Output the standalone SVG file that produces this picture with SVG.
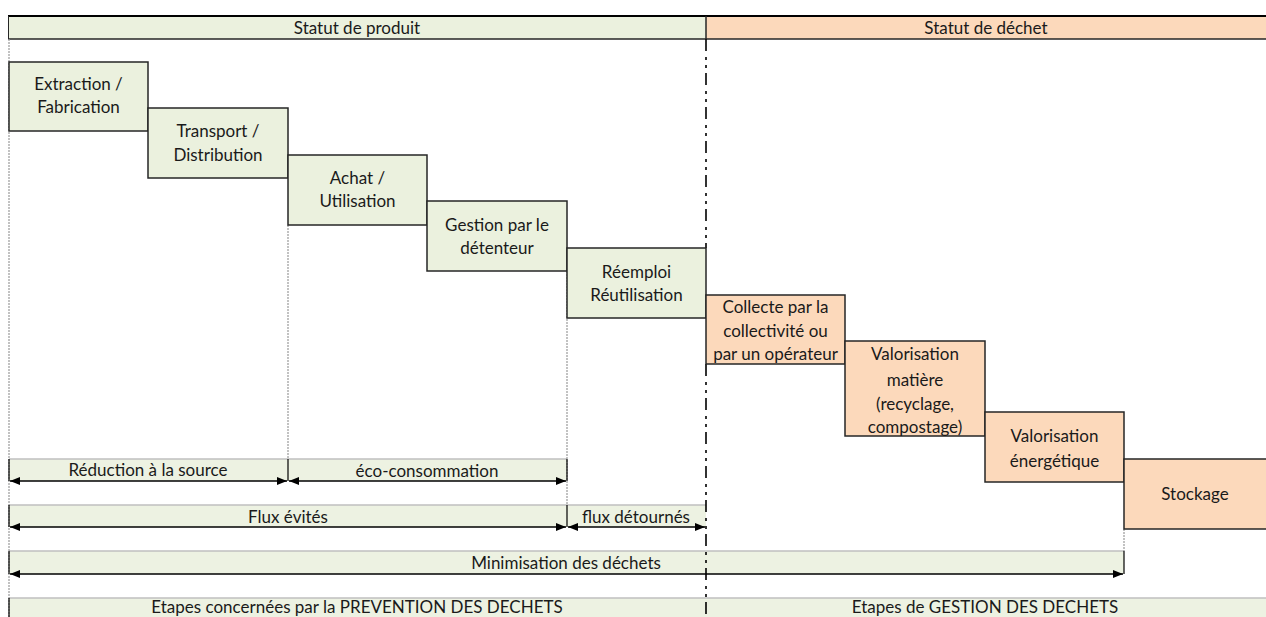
<svg xmlns="http://www.w3.org/2000/svg" width="1266" height="617" viewBox="0 0 1266 617">
<defs>
<style>
text{font-family:Lato,"Open Sans","Liberation Sans",sans-serif;font-size:17px;fill:#1a1a1a;text-anchor:middle}
.g{fill:#EBF1DE;stroke:#262626;stroke-width:1.5}
.o{fill:#FCD9BB;stroke:#262626;stroke-width:1.5}
.band{fill:#EDF2E2}
.bandtop{stroke:#BFBFBF;stroke-width:1.5}
.arr{stroke:#000;stroke-width:1.6;fill:none;marker-start:url(#ah);marker-end:url(#ah)}
.tick{stroke:#000;stroke-width:1.2}
.guide{stroke:#9a9a9a;stroke-width:1.2;stroke-dasharray:2 1}
</style>
<marker id="ah" viewBox="0 0 10 8" refX="10" refY="4" markerWidth="10" markerHeight="8" markerUnits="userSpaceOnUse" orient="auto-start-reverse">
<path d="M0,0 L10,4 L0,8 Z" fill="#000"/>
</marker>
</defs>

<g id="header">
<rect x="9" y="17" width="697" height="22" fill="#EBF1DE"/>
<rect x="706" y="17" width="560" height="22" fill="#FCD9BB"/>
<line x1="8" y1="16" x2="1266" y2="16" stroke="#000" stroke-width="2"/>
<line x1="8" y1="39" x2="1266" y2="39" stroke="#262626" stroke-width="1.5"/>
<line x1="8.5" y1="16" x2="8.5" y2="39" stroke="#262626" stroke-width="1"/>
<line x1="706" y1="16" x2="706" y2="39" stroke="#262626" stroke-width="1.5"/>
<text x="357" y="34">Statut de produit</text>
<text x="986" y="34">Statut de déchet</text>
</g>

<g id="bands">
<rect class="band" x="9" y="459" width="558" height="22"/>
<line class="bandtop" x1="9" y1="459" x2="567" y2="459"/>
<rect class="band" x="9" y="505" width="697" height="22"/>
<line class="bandtop" x1="9" y1="505" x2="706" y2="505"/>
<rect class="band" x="9" y="551" width="1115" height="23"/>
<line class="bandtop" x1="9" y1="551" x2="1124" y2="551"/>
<rect class="band" x="9" y="598" width="1257" height="19"/>
<line class="bandtop" x1="9" y1="598" x2="1266" y2="598"/>
</g>

<g id="guides">
<line class="guide" x1="9" y1="39" x2="9" y2="617"/>
<line class="guide" x1="288" y1="225" x2="288" y2="459"/>
<line class="guide" x1="567" y1="271" x2="567" y2="505"/>
<line class="guide" x1="1124" y1="529" x2="1124" y2="551"/>
<line stroke="#000" stroke-width="1.6" stroke-dasharray="12 6 3 5 3 5" x1="706" y1="39" x2="706" y2="248"/>
<line stroke="#000" stroke-width="1.6" stroke-dasharray="12 6 3 5 3 5" x1="706" y1="364" x2="706" y2="617"/>
</g>

<g id="n1"><rect class="g" x="9" y="62" width="139" height="69"/><text x="78.5" y="90">Extraction /</text><text x="78.5" y="113">Fabrication</text></g>
<g id="n2"><rect class="g" x="148" y="108" width="140" height="70"/><text x="218" y="137">Transport /</text><text x="218" y="161">Distribution</text></g>
<g id="n3"><rect class="g" x="288" y="155" width="139" height="70"/><text x="357.5" y="184">Achat /</text><text x="357.5" y="207">Utilisation</text></g>
<g id="n4"><rect class="g" x="427" y="201" width="140" height="70"/><text x="497" y="231">Gestion par le</text><text x="497" y="254">détenteur</text></g>
<g id="n5"><rect class="g" x="567" y="248" width="139" height="70"/><text x="636.5" y="278">Réemploi</text><text x="636.5" y="301">Réutilisation</text></g>
<g id="n6"><rect class="o" x="706" y="295" width="139" height="69"/><text x="775.5" y="313">Collecte par la</text><text x="775.5" y="337">collectivité ou</text><text x="775.5" y="360">par un opérateur</text></g>
<g id="n7"><rect class="o" x="845" y="341" width="140" height="95"/><text x="915" y="360">Valorisation</text><text x="915" y="386">matière</text><text x="915" y="410">(recyclage,</text><text x="915" y="433">compostage)</text></g>
<g id="n8"><rect class="o" x="985" y="412" width="139" height="70"/><text x="1054.5" y="442">Valorisation</text><text x="1054.5" y="467">énergétique</text></g>
<g id="n9"><rect class="o" x="1124" y="459" width="143" height="70"/><text x="1195" y="500">Stockage</text></g>

<g id="connectors">
<line class="tick" x1="9" y1="459" x2="9" y2="481"/>
<line class="tick" x1="288" y1="459" x2="288" y2="481"/>
<line class="tick" x1="567" y1="459" x2="567" y2="481"/>
<line class="tick" x1="9" y1="505" x2="9" y2="527"/>
<line class="tick" x1="567" y1="505" x2="567" y2="527"/>
<line class="tick" x1="9" y1="551" x2="9" y2="574"/>
<line class="tick" x1="1124" y1="551" x2="1124" y2="574"/>
<line class="tick" x1="9" y1="598" x2="9" y2="617"/>
<line class="arr" x1="10" y1="481" x2="287" y2="481"/>
<line class="arr" x1="289" y1="481" x2="566" y2="481"/>
<line class="arr" x1="10" y1="527" x2="566" y2="527"/>
<line class="arr" x1="568" y1="527" x2="705" y2="527"/>
<line class="arr" x1="10" y1="574" x2="1123" y2="574"/>
<line class="arr" x1="10" y1="621" x2="704" y2="621"/>
<line class="arr" x1="708" y1="621" x2="1265" y2="621"/>
</g>

<g id="labels">
<text x="148" y="476">Réduction à la source</text>
<text x="427" y="477">éco-consommation</text>
<text x="288" y="523">Flux évités</text>
<text x="636" y="523">flux détournés</text>
<text x="566" y="569">Minimisation des déchets</text>
<text x="357" y="613">Etapes concernées par la PREVENTION DES DECHETS</text>
<text x="985" y="613">Etapes de GESTION DES DECHETS</text>
</g>
</svg>
